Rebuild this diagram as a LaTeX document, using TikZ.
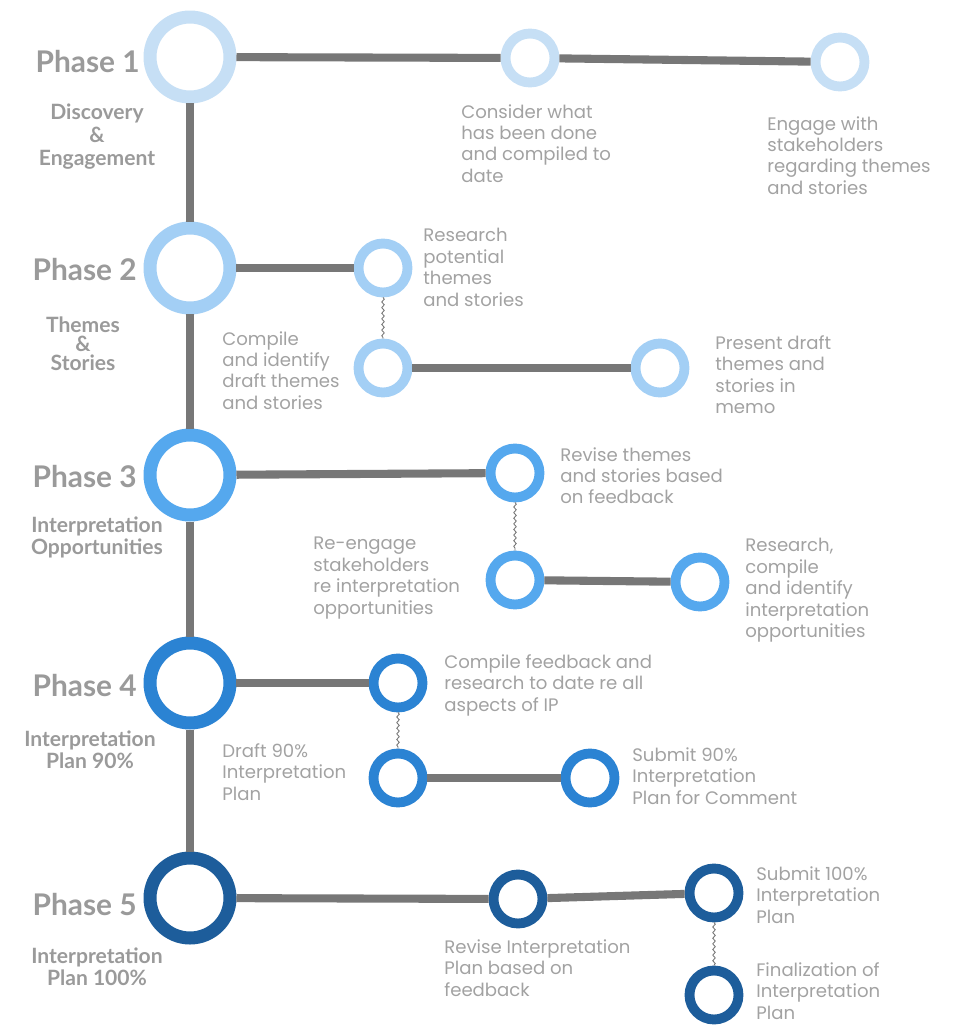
\documentclass[tikz,border=0pt]{standalone}
\usepackage{fontspec}
\setmainfont{Poppins}
\newfontfamily\phasefont{Lato}
\usetikzlibrary{decorations.pathmorphing}

\definecolor{ringone}{HTML}{C6DFF5}
\definecolor{ringtwo}{HTML}{A3CFF5}
\definecolor{ringthree}{HTML}{55A8EE}
\definecolor{ringfour}{HTML}{2B83D3}
\definecolor{ringfive}{HTML}{1D5D9B}
\definecolor{linegray}{HTML}{777777}
\definecolor{phasegray}{HTML}{9A9A9A}
\definecolor{descgray}{HTML}{A2A2A2}

\tikzset{
	bigring/.style={circle, draw=#1, fill=white, line width=7.4pt, minimum size=1.6cm, inner sep=0pt},
	smallring/.style={circle, draw=#1, fill=white, line width=5.6pt, minimum size=0.98cm, inner sep=0pt},
	trunk/.style={draw=linegray, line width=4.6pt},
	wiggle/.style={draw=linegray, line width=0.5pt, decorate, decoration={snake, amplitude=0.7pt, segment length=3.2pt}},
	phase/.style={anchor=east, inner sep=0pt, text=phasegray, font=\phasefont\bfseries\fontsize{17}{20}\selectfont},
	subtitle/.style={anchor=north, align=center, inner sep=0pt, text=phasegray, font=\phasefont\bfseries\fontsize{12}{13}\selectfont},
	desc/.style={anchor=north west, align=left, inner sep=0pt, text=descgray, font=\fontsize{10.3}{12.2}\selectfont}
}

\begin{document}
\begin{tikzpicture}[x=0.02cm, y=-0.02cm]
	\useasboundingbox (0, 0) rectangle (958, 1025);

	% phase rings
	\node[bigring=ringone] (p1) at (190, 57) {};
	\node[bigring=ringtwo] (p2) at (190, 268) {};
	\node[bigring=ringthree] (p3) at (190, 475) {};
	\node[bigring=ringfour] (p4) at (190, 683) {};
	\node[bigring=ringfive] (p5) at (190, 898) {};

	% step rings
	\node[smallring=ringone] (p1a) at (530, 58) {};
	\node[smallring=ringone] (p1b) at (840, 62) {};
	\node[smallring=ringtwo] (p2a) at (383, 268) {};
	\node[smallring=ringtwo] (p2b) at (383, 368) {};
	\node[smallring=ringtwo] (p2c) at (660, 368) {};
	\node[smallring=ringthree] (p3a) at (515, 473) {};
	\node[smallring=ringthree] (p3b) at (515, 580) {};
	\node[smallring=ringthree] (p3c) at (700, 582) {};
	\node[smallring=ringfour] (p4a) at (398, 683) {};
	\node[smallring=ringfour] (p4b) at (398, 778) {};
	\node[smallring=ringfour] (p4c) at (590, 778) {};
	\node[smallring=ringfive] (p5a) at (518, 899) {};
	\node[smallring=ringfive] (p5b) at (714, 893) {};
	\node[smallring=ringfive] (p5c) at (714, 995) {};

	% connectors
	\draw[trunk] (p1) -- (p2);
	\draw[trunk] (p2) -- (p3);
	\draw[trunk] (p3) -- (p4);
	\draw[trunk] (p4) -- (p5);
	\draw[trunk] (p1) -- (p1a);
	\draw[trunk] (p1a) -- (p1b);
	\draw[trunk] (p2) -- (p2a);
	\draw[trunk] (p2b) -- (p2c);
	\draw[trunk] (p3) -- (p3a);
	\draw[trunk] (p3b) -- (p3c);
	\draw[trunk] (p4) -- (p4a);
	\draw[trunk] (p4b) -- (p4c);
	\draw[trunk] (p5) -- (p5a);
	\draw[trunk] (p5a) -- (p5b);
	\draw[wiggle] (p2a) -- (p2b);
	\draw[wiggle] (p3a) -- (p3b);
	\draw[wiggle] (p4a) -- (p4b);
	\draw[wiggle] (p5b) -- (p5c);

	% phase names
	\node[phase] (n1) at (140, 62) {Phase 1};
	\node[phase] (n2) at (137, 270) {Phase 2};
	\node[phase] (n3) at (137, 477) {Phase 3};
	\node[phase] (n4) at (137, 686) {Phase 4};
	\node[phase] (n5) at (137, 905) {Phase 5};
	\node[subtitle] (s1) at (97, 104) {Discovery\\\&\\Engagement};
	\node[subtitle, font=\phasefont\bfseries\fontsize{12}{11}\selectfont] (s2) at (83, 316) {Themes\\\&\\Stories};
	\node[subtitle] (s3) at (97, 516) {Interpretation\\Opportunities};
	\node[subtitle] (s4) at (90, 730) {Interpretation\\Plan 90\%};
	\node[subtitle] (s5) at (97, 947) {Interpretation\\Plan 100\%};

	% step texts
	\node[desc] (t1a) at (461, 104) {Consider what\\has been done\\and compiled to\\date};
	\node[desc] (t1b) at (767, 116) {Engage with\\stakeholders\\regarding themes\\and stories};
	\node[desc] (t2a) at (423, 228) {Research\\potential\\themes\\and stories};
	\node[desc] (t2b) at (222, 331) {Compile\\and identify\\draft themes\\and stories};
	\node[desc] (t2c) at (715, 335) {Present draft\\themes and\\stories in\\memo};
	\node[desc] (t3a) at (560, 447) {Revise themes\\and stories based\\on feedback};
	\node[desc] (t3b) at (313, 537) {Re-engage\\stakeholders\\re interpretation\\opportunities};
	\node[desc] (t3c) at (745, 538) {Research,\\compile\\and identify\\interpretation\\opportunities};
	\node[desc] (t4a) at (444, 654) {Compile feedback and\\research to date re all\\aspects of IP};
	\node[desc] (t4b) at (222, 743) {Draft 90\%\\Interpretation\\Plan};
	\node[desc] (t4c) at (632, 747) {Submit 90\%\\Interpretation\\Plan for Comment};
	\node[desc] (t5a) at (444, 939) {Revise Interpretation\\Plan based on\\feedback};
	\node[desc] (t5b) at (756, 866) {Submit 100\%\\Interpretation\\Plan};
	\node[desc] (t5c) at (756, 962) {Finalization of\\Interpretation\\Plan};
\end{tikzpicture}
\end{document}
